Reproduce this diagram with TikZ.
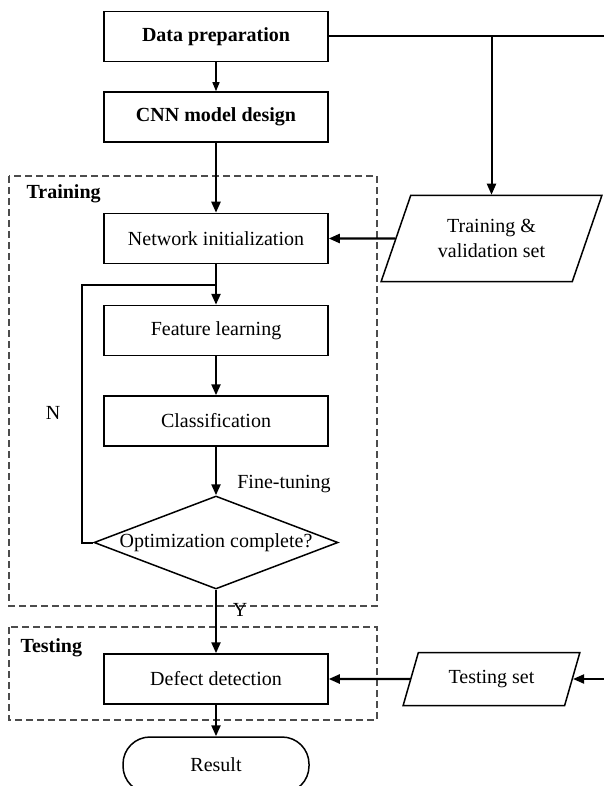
\documentclass[tikz,border=0pt]{standalone}
\usepackage{fontspec}
\setmainfont{Liberation Serif}
\usetikzlibrary{shapes.geometric,arrows.meta}

\begin{document}
\begin{tikzpicture}[x=1pt,y=-1pt,
    every node/.style={font=\fontsize{20}{25}\selectfont},
    bold/.style={font=\bfseries\fontsize{20}{25}\selectfont},
    box/.style={rectangle,draw,line width=1.5pt,fill=white,minimum width=224pt,minimum height=50pt,inner sep=0pt},
    dataset/.style={trapezium,trapezium left angle=63,trapezium right angle=117,trapezium stretches=true,draw,line width=1.5pt,fill=white,inner sep=0pt,align=center},
    decision/.style={diamond,draw,line width=1.5pt,fill=white,aspect=2.62,inner sep=0pt,minimum width=244pt,minimum height=93pt},
    terminal/.style={rectangle,rounded corners=27pt,draw,line width=1.5pt,minimum width=186pt,minimum height=56pt},
    stage/.style={draw=black!70,line width=1.1pt,dash pattern=on 7pt off 4pt},
    flow/.style={line width=2.3pt,-{Triangle[length=11pt,width=9pt]}}]

\useasboundingbox (0,0) rectangle (603,786);

% stages
\draw[stage] (9,176) rectangle (377,606);
\draw[stage] (9,627) rectangle (377,720);
\node[bold,anchor=west] (train) at (23,194) {Training};
\node[bold,anchor=west] (test) at (17,648) {Testing};

\node[box,bold] (prep) at (216,36.5) {Data preparation};
\node[box,bold] (cnn) at (216,117) {CNN model design};
\node[box] (init) at (216,238.5) {Network initialization};
\node[box] (feat) at (216,330.5) {Feature learning};
\node[box] (cls) at (216,421) {Classification};
\node[decision] (opt) at (216,542.5) {Optimization complete?};
\node[box] (detect) at (216,679) {Defect detection};
\node[terminal] (res) at (216,765) {Result};

\node[dataset,minimum width=221pt,minimum height=86pt] (set) at (491.5,238.5) {Training \&\\validation set};
\node[dataset,minimum width=177pt,minimum height=53pt] (tset) at (491.5,679) {Testing set};

\coordinate (edge) at (607,36.5);
\coordinate (join) at (216,285);

\draw[line width=1.3pt,-{Triangle[length=9pt,width=7pt]}] (prep) -- (cnn);
\draw[flow] (cnn) -- (init);
\draw[flow] (set) -- (init);
\draw[flow] (init) -- (feat);
\draw[flow] (feat) -- (cls);
\draw[flow] (cls) -- (opt);
\draw[flow] (opt) -- (detect);
\draw[flow] (tset) -- (detect);
\draw[flow] (detect) -- (res);
\draw[line width=2pt] (opt.west) -- ++(-11,0) |- (join);
\draw[flow,line width=2pt] (prep.east) -- (edge) |- (tset.east);
\draw[flow,line width=2pt] (prep.east -| set.north) -- (set.north);

\node (n) at (53,413) {N};
\node (fine) at (284,484) {Fine-tuning};
\node (y) at (240,610) {Y};
\end{tikzpicture}
\end{document}
